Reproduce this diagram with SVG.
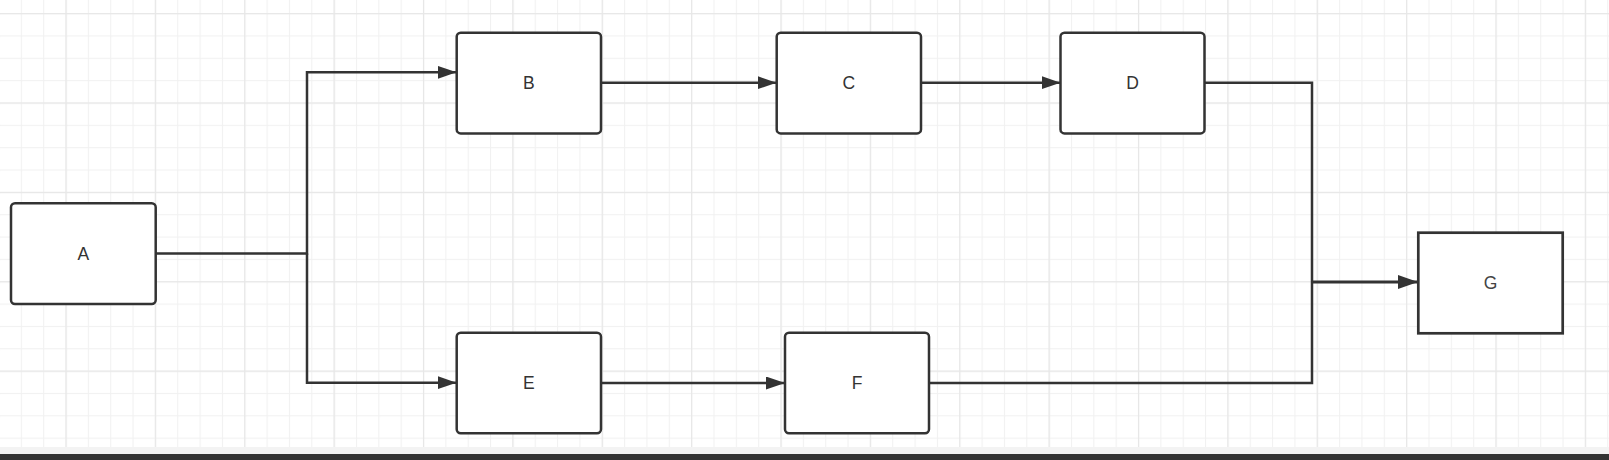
<svg xmlns="http://www.w3.org/2000/svg" width="1609" height="460" viewBox="0 0 1609 460">
  <style>
    .box { fill: #ffffff; stroke: #333333; stroke-width: 2.5; }
    .boxsq { fill: #ffffff; stroke: #333333; stroke-width: 2.7; }
    .lbl { font-family: "Liberation Sans", Arial, sans-serif; font-size: 17.5px; fill: #333333; text-anchor: middle; }
    .conn { fill: none; stroke: #333333; stroke-width: 2.5; }
    .connb { fill: none; stroke: #333333; stroke-width: 3.2; }
  </style>
  <defs>
    <pattern id="minor" patternUnits="userSpaceOnUse" x="-1.53" y="13.1" width="22.34375" height="22.34375">
      <rect x="0" y="0" width="1.1" height="22.34375" fill="#f1f1f1"/>
      <rect x="0" y="0" width="22.34375" height="1.1" fill="#f1f1f1"/>
    </pattern>
    <pattern id="major" patternUnits="userSpaceOnUse" x="65.45" y="13.1" width="89.375" height="89.375">
      <rect x="0" y="0" width="1.2" height="89.375" fill="#e7e7e7"/>
      <rect x="0" y="0" width="89.375" height="1.2" fill="#e7e7e7"/>
    </pattern>
    <marker id="arr" markerUnits="userSpaceOnUse" markerWidth="20" markerHeight="14" refX="19" refY="6.5" orient="auto">
      <path d="M0,0 L19,6.5 L0,13 Z" fill="#333333"/>
    </marker>
    <marker id="arrb" markerUnits="userSpaceOnUse" markerWidth="21" markerHeight="15" refX="20" refY="7" orient="auto">
      <path d="M0,0 L20,7 L0,14 Z" fill="#333333"/>
    </marker>
  </defs>

  <rect x="0" y="0" width="1609" height="447" fill="#ffffff"/>
  <rect x="0" y="0" width="1609" height="447" fill="url(#minor)"/>
  <rect x="0" y="0" width="1609" height="447" fill="url(#major)"/>
  <rect x="0" y="447" width="1609" height="7" fill="#f3f3f3"/>
  <rect x="0" y="454" width="1609" height="6" fill="#333333"/>

  <g id="connectors">
    <path class="conn" d="M156,253.5 H307 V72.3 H456.5" marker-end="url(#arr)"/>
    <path class="conn" d="M307,253.5 V382.7 H456.5" marker-end="url(#arr)"/>
    <path class="conn" d="M601,82.7 H776.5" marker-end="url(#arr)"/>
    <path class="conn" d="M921,82.7 H1060.5" marker-end="url(#arr)"/>
    <path class="conn" d="M601,383 H785" marker-end="url(#arr)"/>
    <path class="conn" d="M1204.5,82.7 H1312 V282"/>
    <path class="conn" d="M929,383 H1312 V282"/>
    <path class="connb" d="M1312,282 H1418" marker-end="url(#arrb)"/>
  </g>

  <g id="node-A">
    <rect class="box" x="11" y="203.3" width="144.7" height="100.7" rx="4"/>
    <text class="lbl" x="83.3" y="260">A</text>
  </g>
  <g id="node-B">
    <rect class="box" x="456.7" y="32.7" width="144.3" height="100.7" rx="4"/>
    <text class="lbl" x="528.8" y="88.7">B</text>
  </g>
  <g id="node-C">
    <rect class="box" x="776.7" y="32.7" width="144.3" height="100.7" rx="4"/>
    <text class="lbl" x="848.8" y="88.7">C</text>
  </g>
  <g id="node-D">
    <rect class="box" x="1060.5" y="32.7" width="144" height="100.7" rx="4"/>
    <text class="lbl" x="1132.5" y="88.7">D</text>
  </g>
  <g id="node-E">
    <rect class="box" x="456.7" y="332.7" width="144.3" height="100.5" rx="4"/>
    <text class="lbl" x="528.8" y="388.5">E</text>
  </g>
  <g id="node-F">
    <rect class="box" x="785" y="332.7" width="144" height="100.5" rx="4"/>
    <text class="lbl" x="857" y="388.5">F</text>
  </g>
  <g id="node-G">
    <rect class="boxsq" x="1418.3" y="232.7" width="144.4" height="100.6"/>
    <text class="lbl" x="1490.5" y="288.5" style="fill:#444444">G</text>
  </g>
</svg>
